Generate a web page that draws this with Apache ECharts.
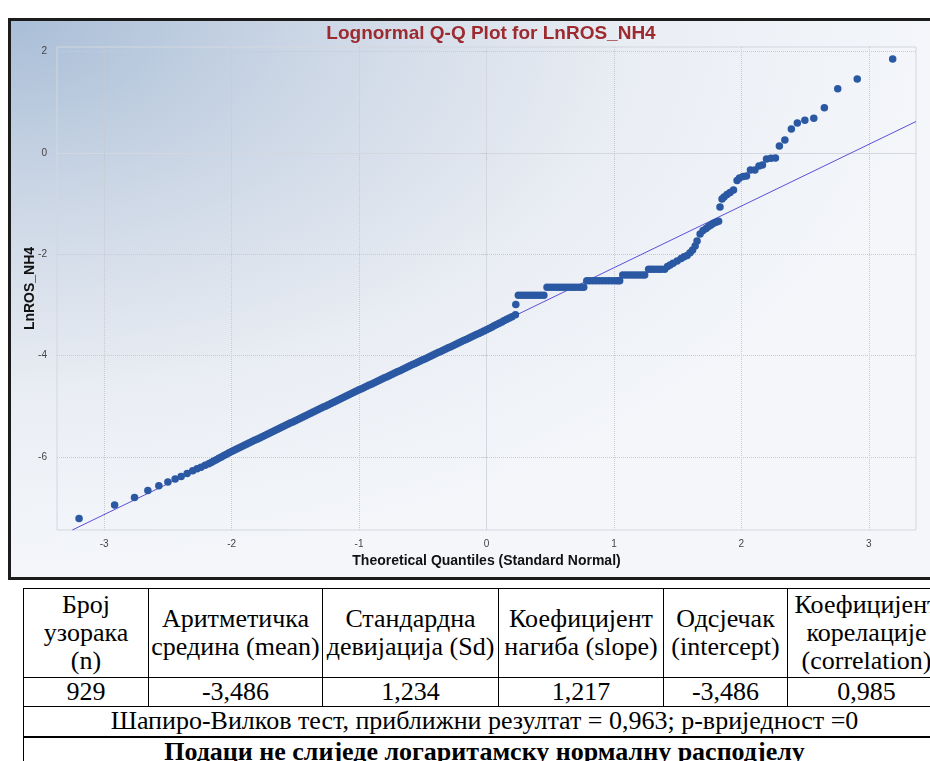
<!DOCTYPE html>
<html>
<head>
<meta charset="utf-8">
<script src="https://cdn.jsdelivr.net/npm/echarts@6.0.0/dist/echarts.min.js"></script>
<style>
  body { margin: 0; width: 930px; height: 761px; overflow: hidden; background: #fff; position: relative; }
  #panel {
    position: absolute; left: 8px; top: 18px; width: 940px; height: 562px;
    box-sizing: border-box; border: 3px solid #1c1c1c;
    background: radial-gradient(ellipse at 0% 0%, #a9bed7 0%, #cbd6e5 22%, #eaeef4 48%, #f4f6fa 70%, #f5f6fa 100%);
  }
  #main { position: absolute; left: 0; top: 0; width: 930px; height: 580px; }
  #stats {
    position: absolute; left: 23px; top: 588px; width: 922px; border-collapse: collapse;
    font-family: "Liberation Serif", "Times New Roman", serif; font-size: 26px; color: #000;
    table-layout: fixed;
  }
  #stats td { border: 1px solid #000; text-align: center; padding: 0; line-height: 28px; white-space: nowrap; }
  #stats tr.bold td { font-weight: bold; border-top: 2px solid #000; }
</style>
</head>
<body>
<div id="panel"></div>
<div id="main"></div>
<table id="stats">
  <colgroup>
    <col style="width:125px"><col style="width:174px"><col style="width:176px">
    <col style="width:165px"><col style="width:124px"><col style="width:158px">
  </colgroup>
  <tr id="headRow" style="height:89px"></tr>
  <tr id="valRow" style="height:29px"></tr>
  <tr style="height:30px"><td colspan="6" id="swCell"></td></tr>
  <tr class="bold" style="height:40px"><td colspan="6" id="concCell" style="vertical-align:top"></td></tr>
</table>
<script>
// тачке очитане са слике: [теоријски квантил, LnROS_NH4]
var lowerTail = [
  [-3.197, -7.213], [-2.918, -6.949], [-2.762, -6.798], [-2.657, -6.661], [-2.571, -6.568],
  [-2.500, -6.495], [-2.443, -6.436], [-2.396, -6.384], [-2.349, -6.325], [-2.305, -6.272],
  [-2.271, -6.233], [-2.240, -6.200], [-2.208, -6.160]
];
var linearBand = [
  [-2.18, -6.133], [-2.16, -6.106], [-2.14, -6.079], [-2.12, -6.052], [-2.10, -6.025],
  [-2.08, -5.998], [-2.06, -5.971], [-2.04, -5.944], [-2.02, -5.917], [-2.00, -5.890],
  [-1.98, -5.866], [-1.96, -5.841], [-1.94, -5.817], [-1.92, -5.793], [-1.90, -5.768],
  [-1.88, -5.744], [-1.86, -5.720], [-1.84, -5.696], [-1.82, -5.671], [-1.80, -5.647],
  [-1.78, -5.623], [-1.76, -5.598], [-1.74, -5.574], [-1.72, -5.550], [-1.70, -5.526],
  [-1.68, -5.501], [-1.66, -5.477], [-1.64, -5.453], [-1.62, -5.428], [-1.60, -5.404],
  [-1.58, -5.380], [-1.56, -5.355], [-1.54, -5.331], [-1.52, -5.307], [-1.50, -5.283],
  [-1.48, -5.258], [-1.46, -5.234], [-1.44, -5.210], [-1.42, -5.185], [-1.40, -5.161],
  [-1.38, -5.137], [-1.36, -5.112], [-1.34, -5.088], [-1.32, -5.064], [-1.30, -5.040],
  [-1.28, -5.015], [-1.26, -4.991], [-1.24, -4.967], [-1.22, -4.942], [-1.20, -4.918],
  [-1.18, -4.894], [-1.16, -4.869], [-1.14, -4.845], [-1.12, -4.821], [-1.10, -4.797],
  [-1.08, -4.772], [-1.06, -4.748], [-1.04, -4.724], [-1.02, -4.699], [-1.00, -4.675],
  [-0.98, -4.651], [-0.96, -4.628], [-0.94, -4.604], [-0.92, -4.580], [-0.90, -4.557],
  [-0.88, -4.533], [-0.86, -4.509], [-0.84, -4.485], [-0.82, -4.462], [-0.80, -4.438],
  [-0.78, -4.414], [-0.76, -4.391], [-0.74, -4.367], [-0.72, -4.343], [-0.70, -4.320],
  [-0.68, -4.296], [-0.66, -4.272], [-0.64, -4.248], [-0.62, -4.225], [-0.60, -4.201],
  [-0.58, -4.177], [-0.56, -4.154], [-0.54, -4.130], [-0.52, -4.106], [-0.50, -4.083],
  [-0.48, -4.059], [-0.46, -4.035], [-0.44, -4.011], [-0.42, -3.988], [-0.40, -3.964],
  [-0.38, -3.940], [-0.36, -3.917], [-0.34, -3.893], [-0.32, -3.869], [-0.30, -3.846],
  [-0.28, -3.822], [-0.26, -3.798], [-0.24, -3.774], [-0.22, -3.751], [-0.20, -3.727],
  [-0.18, -3.703], [-0.16, -3.680], [-0.14, -3.656], [-0.12, -3.632], [-0.10, -3.609],
  [-0.08, -3.585], [-0.06, -3.561], [-0.04, -3.537], [-0.02, -3.514], [0.00, -3.490],
  [0.02, -3.464], [0.04, -3.438], [0.06, -3.412], [0.08, -3.386], [0.10, -3.360],
  [0.12, -3.334], [0.14, -3.308], [0.16, -3.282], [0.18, -3.256], [0.20, -3.230],
  [0.227, -3.195]
];
var jumpPoint = [0.23, -2.99];
var plateauPts = [
  [0.250, -2.81], [0.275, -2.81], [0.300, -2.81], [0.325, -2.81], [0.350, -2.81],
  [0.375, -2.81], [0.400, -2.81], [0.425, -2.81], [0.450, -2.81],
  [0.475, -2.65], [0.500, -2.65], [0.525, -2.65], [0.550, -2.65], [0.575, -2.65],
  [0.600, -2.65], [0.625, -2.65], [0.650, -2.65], [0.675, -2.65], [0.700, -2.65],
  [0.725, -2.65], [0.750, -2.65], [0.763, -2.65],
  [0.787, -2.52], [0.810, -2.52], [0.835, -2.52], [0.860, -2.52], [0.885, -2.52],
  [0.910, -2.52], [0.935, -2.52], [0.960, -2.52], [0.985, -2.52], [1.010, -2.52],
  [1.030, -2.52], [1.045, -2.52],
  [1.069, -2.41], [1.095, -2.41], [1.120, -2.41], [1.145, -2.41], [1.170, -2.41],
  [1.195, -2.41], [1.220, -2.41], [1.241, -2.41],
  [1.272, -2.295], [1.295, -2.295], [1.320, -2.295], [1.345, -2.295], [1.370, -2.295],
  [1.398, -2.295], [1.420, -2.24]
];
var upperTail = [
  [1.441, -2.209], [1.464, -2.179], [1.496, -2.130], [1.527, -2.085], [1.550, -2.051],
  [1.574, -2.022], [1.597, -1.972], [1.617, -1.913], [1.637, -1.834], [1.652, -1.736],
  [1.676, -1.598], [1.699, -1.529], [1.723, -1.489], [1.742, -1.454], [1.762, -1.420],
  [1.781, -1.387], [1.801, -1.367], [1.821, -1.347], [1.832, -1.065], [1.848, -0.907],
  [1.864, -0.868], [1.887, -0.819], [1.911, -0.779], [1.938, -0.730], [1.966, -0.542],
  [1.985, -0.493], [2.013, -0.464], [2.040, -0.454], [2.071, -0.335], [2.106, -0.335],
  [2.138, -0.256], [2.165, -0.237], [2.197, -0.118], [2.232, -0.105], [2.267, -0.100],
  [2.298, 0.138], [2.341, 0.256], [2.392, 0.473], [2.439, 0.592], [2.498, 0.645],
  [2.568, 0.684], [2.651, 0.893], [2.756, 1.268], [2.909, 1.460], [3.187, 1.854]
];
// права (slope 1,217, intercept -3,486)
var fitLine = [[-3.25, -7.44], [3.37, 0.62]];

var xTicks = [-3, -2, -1, 0, 1, 2, 3];
var yTicks = [-6, -4, -2, 0, 2];

// табела
var headers = ['Број<br>узорака<br>(n)', 'Аритметичка<br>средина (mean)', 'Стандардна<br>девијација (Sd)',
  'Коефицијент<br>нагиба (slope)', 'Одсјечак<br>(intercept)', 'Коефицијент<br>корелације<br>(correlation)'];
var values = ['929', '-3,486', '1,234', '1,217', '-3,486', '0,985'];
var shapiroText = 'Шапиро-Вилков тест, приближни резултат = 0,963; p-вриједност =0';
var conclusion = 'Подаци не слиједе логаритамску нормалну расподјелу';

var headRow = document.getElementById('headRow');
headers.forEach(function (h) {
    var td = document.createElement('td');
    td.innerHTML = h;
    headRow.appendChild(td);
});
var valRow = document.getElementById('valRow');
values.forEach(function (v) {
    var td = document.createElement('td');
    td.textContent = v;
    valRow.appendChild(td);
});
document.getElementById('swCell').textContent = shapiroText;
document.getElementById('concCell').textContent = conclusion;

var myChart = echarts.init(document.getElementById('main'));

var allPoints = lowerTail.concat(linearBand, [jumpPoint], plateauPts, upperTail);

var option = {
    backgroundColor: 'transparent',
    animation: false,
    title: {
        text: 'Lognormal Q-Q Plot for LnROS_NH4',
        left: 486,
        top: 19,
        textAlign: 'center',
        textStyle: {
            color: '#9c2a2e',
            fontSize: 19,
            fontWeight: 'bold',
            fontFamily: 'Liberation Sans'
        }
    },
    grid: {
        left: 57,
        right: 14,
        top: 47,
        bottom: 50,
        show: true,
        borderColor: '#d3d7de',
        borderWidth: 1,
        backgroundColor: 'transparent'
    },
    xAxis: {
        type: 'value',
        min: -3.37,
        max: 3.37,
        name: 'Theoretical Quantiles (Standard Normal)',
        nameLocation: 'middle',
        nameGap: 23,
        nameTextStyle: { color: '#111', fontSize: 14, fontWeight: 'bold', fontFamily: 'Liberation Sans' },
        axisLine: { show: true, lineStyle: { color: '#d3d7de' } },
        axisTick: { show: true, customValues: xTicks, length: 7, lineStyle: { color: '#c4c4c8', type: 'dotted' } },
        axisLabel: { customValues: xTicks, margin: 9, color: '#444', fontSize: 10, fontFamily: 'Liberation Sans' },
        splitLine: { show: true, lineStyle: { color: '#c9c9ce', type: 'dotted' } }
    },
    yAxis: {
        type: 'value',
        min: -7.44,
        max: 2.09,
        name: 'LnROS_NH4',
        nameLocation: 'middle',
        nameGap: 20,
        nameMoveOverlap: false,
        nameTextStyle: { color: '#111', fontSize: 14, fontWeight: 'bold', fontFamily: 'Liberation Sans' },
        axisLine: { show: true, lineStyle: { color: '#d3d7de' } },
        axisTick: { show: true, customValues: yTicks, length: 5, lineStyle: { color: '#c4c4c8', type: 'dotted' } },
        axisLabel: { customValues: yTicks, margin: 10, color: '#444', fontSize: 10, fontFamily: 'Liberation Sans' },
        splitLine: { show: true, lineStyle: { color: '#c9c9ce', type: 'dotted' } }
    },
    series: [
        {
            name: 'LnROS_NH4',
            type: 'scatter',
            data: allPoints,
            symbolSize: 7.5,
            itemStyle: { color: '#2a58a3', opacity: 1 },
            z: 3
        },
        {
            name: 'fit',
            type: 'line',
            data: fitLine,
            symbol: 'none',
            lineStyle: { color: '#5a4fd8', width: 1 },
            z: 2
        }
    ]
};
// прикажи графикон
myChart.setOption(option);
</script>
</body>
</html>
